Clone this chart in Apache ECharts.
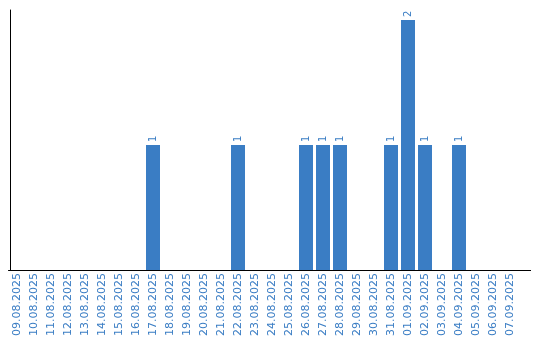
<!DOCTYPE html>
<html>
<head>
<meta charset="utf-8">
<script src="https://cdn.jsdelivr.net/npm/echarts@6/dist/echarts.min.js"></script>
<style>
html,body{margin:0;padding:0;background:#fff;}
#chart{width:540px;height:340px;}
</style>
</head>
<body>
<div id="chart"></div>
<script>
const categories = [
  "09.08.2025","10.08.2025","11.08.2025","12.08.2025","13.08.2025","14.08.2025",
  "15.08.2025","16.08.2025","17.08.2025","18.08.2025","19.08.2025","20.08.2025",
  "21.08.2025","22.08.2025","23.08.2025","24.08.2025","25.08.2025","26.08.2025",
  "27.08.2025","28.08.2025","29.08.2025","30.08.2025","31.08.2025","01.09.2025",
  "02.09.2025","03.09.2025","04.09.2025","05.09.2025","06.09.2025","07.09.2025"
];
const values = [
  0,0,0,0,0,0,
  0,0,1,0,0,0,
  0,1,0,0,0,1,
  1,1,0,0,1,2,
  1,0,1,0,0,0
];

const BLUE = '#3a7dc4';
const GRID_LEFT = 8.5, GRID_TOP = 10, GRID_W = 510, GRID_H = 260, AXIS_END = 531;

const chart = echarts.init(document.getElementById('chart'), null, {renderer: 'canvas'});
chart.setOption({
  animation: false,
  backgroundColor: '#ffffff',
  grid: {left: GRID_LEFT, top: GRID_TOP, width: GRID_W, height: GRID_H, containLabel: false},
  xAxis: {
    type: 'category',
    data: categories,
    axisLine: {show: true, lineStyle: {color: '#000', width: 1}},
    axisTick: {show: false},
    axisLabel: {
      interval: 0, rotate: 90, margin: 3,
      color: BLUE, fontSize: 11, fontFamily: 'DejaVu Sans'
    },
    splitLine: {show: false}
  },
  yAxis: {
    type: 'value', min: 0, max: 2.08, offset: -2,
    axisLine: {show: true, lineStyle: {color: '#000', width: 1}},
    axisTick: {show: false},
    axisLabel: {show: false},
    splitLine: {show: false}
  },
  graphic: [{
    type: 'line', silent: true,
    shape: {x1: Math.floor(GRID_LEFT + GRID_W), y1: GRID_TOP + GRID_H + 0.5, x2: AXIS_END, y2: GRID_TOP + GRID_H + 0.5},
    style: {stroke: '#000', lineWidth: 1}
  }],
  series: [{
    type: 'bar',
    data: values,
    barWidth: 14,
    itemStyle: {color: BLUE},
    label: {
      show: true, position: 'top', distance: 3, rotate: 90,
      align: 'left', verticalAlign: 'middle',
      color: BLUE, fontSize: 10, fontFamily: 'DejaVu Sans',
      formatter: p => (p.value ? String(p.value) : '')
    }
  }]
});
</script>
</body>
</html>
